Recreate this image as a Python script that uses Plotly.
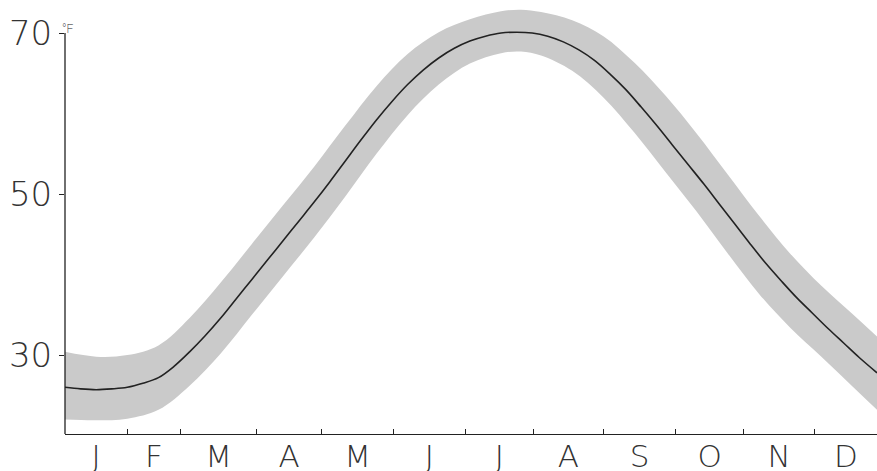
import plotly.graph_objects as go

# ---- data ----
# day of year for the mean curve
days = [0, 7, 14, 21, 28, 35, 42, 49, 56, 63, 70, 77, 84, 91, 98, 105, 112, 119, 126,
        133, 140, 147, 154, 161, 168, 175, 182, 189, 196, 203, 210, 217, 224, 231, 238,
        245, 252, 259, 266, 273, 280, 287, 294, 301, 308, 315, 322, 329, 336, 343, 350,
        357, 365]
mean_temp = [26.0, 25.8, 25.7, 25.8, 26.0, 26.5, 27.2, 28.6, 30.4, 32.4, 34.6, 37.0,
             39.4, 41.8, 44.2, 46.6, 49.0, 51.5, 54.1, 56.7, 59.2, 61.5, 63.6, 65.4,
             66.9, 68.1, 69.0, 69.6, 70.0, 70.1, 70.0, 69.6, 68.9, 67.9, 66.6, 64.9,
             63.0, 60.8, 58.5, 56.1, 53.7, 51.3, 48.8, 46.3, 43.8, 41.4, 39.2, 37.1,
             35.2, 33.3, 31.5, 29.7, 27.8]

# shaded range
band_days = [0, 14, 28, 42, 56, 70, 84, 98, 112, 126, 140, 154, 168, 182, 196, 205,
             214, 228, 242, 256, 270, 284, 298, 312, 326, 340, 354, 365]
band_upper = [30.4, 29.8, 30.0, 31.2, 34.6, 39.0, 43.8, 48.6, 53.4, 58.5, 63.4, 67.4,
              70.1, 71.7, 72.7, 72.9, 72.6, 71.6, 69.6, 66.3, 62.2, 57.5, 52.4, 47.3,
              42.6, 38.6, 35.1, 32.3]
band_lower = [22.0, 21.9, 22.1, 23.2, 26.2, 30.2, 35.0, 39.8, 44.6, 49.7, 55.0, 59.8,
              63.6, 66.2, 67.5, 67.7, 67.2, 65.3, 62.0, 57.6, 52.7, 47.8, 42.6, 37.6,
              33.4, 29.8, 26.1, 23.2]

# month boundaries as drawn on the axis (day units)
month_edges = [0, 28, 52, 86, 115.5, 147.5, 180, 210.5, 242, 274.5, 305, 337, 365]
month_labels = ["J", "F", "M", "A", "M", "J", "J", "A", "S", "O", "N", "D"]
y_ticks = [30, 50, 70]

month_mids = [(a + b) / 2 for a, b in zip(month_edges[:-1], month_edges[1:])]

BAND = "rgb(202,202,202)"
INK = "#222222"
FAMILY = "'DejaVu Sans', Roboto, sans-serif"
FONT = dict(family=FAMILY, size=34, color="#333333", weight=200)
XFONT = dict(family=FAMILY, size=31, color="#333333", weight=200)

fig = go.Figure()
fig.add_trace(go.Scatter(x=band_days, y=band_upper, mode="lines",
                         line=dict(width=0, shape="spline", color=BAND),
                         hoverinfo="skip", showlegend=False))
fig.add_trace(go.Scatter(x=band_days, y=band_lower, mode="lines", fill="tonexty",
                         fillcolor=BAND, line=dict(width=0, shape="spline", color=BAND),
                         hoverinfo="skip", showlegend=False))
fig.add_trace(go.Scatter(x=days, y=mean_temp, mode="lines",
                         line=dict(width=1.6, color=INK, shape="spline", smoothing=1.0),
                         showlegend=False))

ymin, ymax = 20.2, 74.1

fig.update_layout(
    width=877, height=471,
    margin=dict(l=65, r=0, t=0, b=37, autoexpand=False),
    paper_bgcolor="white", plot_bgcolor="white",
    font=FONT,
    xaxis=dict(range=[0, 365], showgrid=False, zeroline=False, automargin=False,
               showline=True, linecolor=INK, linewidth=1.3,
               tickmode="array", tickvals=month_mids, ticktext=month_labels,
               ticks="", tickfont=XFONT, ticklabelstandoff=-5,
               minor=dict(tickmode="array", tickvals=month_edges[1:-1], ticks="inside",
                          ticklen=5, tickwidth=1.2, tickcolor=INK, showgrid=False)),
    yaxis=dict(range=[ymin, ymax], showgrid=False, zeroline=False, showline=False,
               automargin=False,
               tickmode="array", tickvals=y_ticks, ticktext=[str(v) for v in y_ticks],
               ticks="outside", ticklen=5, tickwidth=1.2, tickcolor=INK,
               tickfont=FONT, ticklabelstandoff=0),
    shapes=[dict(type="line", xref="paper", yref="y", x0=0, x1=0, y0=ymin, y1=70,
                 line=dict(color=INK, width=1.3))],
    annotations=[dict(xref="paper", yref="y", x=0, y=70, text="°F", showarrow=False,
                      xanchor="center", yanchor="bottom", xshift=3, yshift=-5,
                      font=dict(family="Roboto, sans-serif", size=12, color="#222222"))],
)

fig.write_html("out.html", config={"displayModeBar": False},
               post_script="document.body.style.margin='0';document.body.style.overflow='hidden';")
